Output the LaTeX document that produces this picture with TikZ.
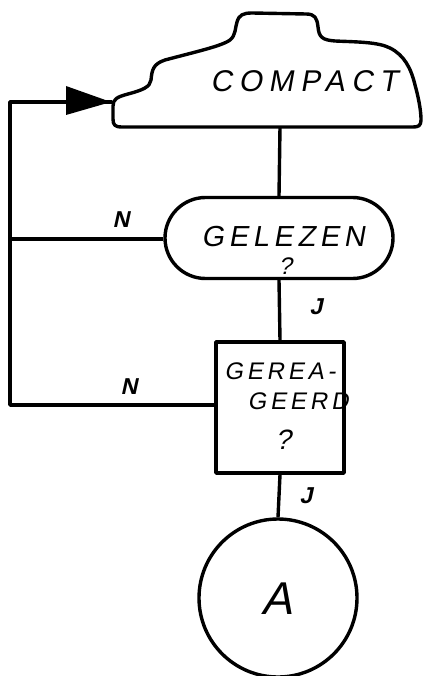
\documentclass[tikz,border=0pt]{standalone}
\usepackage{fontspec}
\usetikzlibrary{arrows.meta,shapes.misc}
\newfontfamily\hand[FakeSlant=0.18,LetterSpace=16]{Liberation Sans}
\newfontfamily\handwide[FakeSlant=0.18,LetterSpace=22]{Liberation Sans}
\newfontfamily\handtight[FakeSlant=0.22]{Liberation Sans}
\begin{document}
\begin{tikzpicture}[x=1pt,y=-1pt,
  line width=3.4pt, line join=round,
  flowline/.style={line width=3.4pt},
  lbl/.style={font=\hand\fontsize{30}{30}\selectfont, inner sep=0pt},
  yn/.style={font=\handtight\bfseries\fontsize{23}{23}\selectfont, inner sep=0pt},
  testbox/.style={draw, rounded rectangle, minimum width=228pt, minimum height=81pt, inner sep=0pt},
  sqbox/.style={draw, rectangle, minimum width=128pt, minimum height=131pt, inner sep=0pt},
  conn/.style={draw, circle, minimum size=158pt, inner sep=0pt}]
\useasboundingbox (0,0) rectangle (425,676);
\fill[white] (0,0) rectangle (425,676);

% cloud-shaped start symbol
\draw (122,127) .. controls (115,127) and (113,125) .. (113,119)
  -- (113,106) .. controls (113,99) and (117,97) .. (128,94)
  .. controls (143,90) and (150,87) .. (151,80)
  .. controls (152,70) and (153,64) .. (165,60)
  .. controls (195,52) and (222,46) .. (230,40)
  .. controls (236,35) and (235,28) .. (237,22)
  .. controls (239,15) and (243,13) .. (252,13)
  -- (306,14) .. controls (315,14) and (317,18) .. (318,27)
  .. controls (319,37) and (322,40) .. (335,41)
  .. controls (358,42) and (378,42) .. (390,48)
  .. controls (404,55) and (411,68) .. (415,85)
  .. controls (420,103) and (421,114) .. (421,120)
  .. controls (421,126) and (418,127) .. (413,127) -- cycle;
\node[lbl, font=\handwide\fontsize{30}{30}\selectfont] (compact) at (304,81) {COMPACT};
\coordinate (cloudbot) at (280,127);
\coordinate (cloudleft) at (112,102);

% decision nodes
\node[testbox] (gel) at (279,238) {};
\node[lbl, font=\hand\fontsize{29}{29}\selectfont] (geltxt) at (283,237) {GELEZEN};
\node[lbl, font=\handtight\fontsize{24}{24}\selectfont] (gelq) at (285,266) {?};

\node[sqbox] (ger) at (280,407.5) {};
\node[lbl, font=\hand\fontsize{24}{24}\selectfont] (ger1) at (280,371) {GEREA-};
\node[lbl, font=\hand\fontsize{24}{24}\selectfont] (ger2) at (298,401) {GEERD};
\node[lbl, font=\handtight\fontsize{28}{28}\selectfont] (gerq) at (283,440) {?};

\node[conn] (ca) at (278,598) {};
\node[font=\handtight\fontsize{46}{46}\selectfont, inner sep=0pt] (atxt) at (277,599) {A};

% vertical flow
\draw[flowline] (cloudbot) -- (gel.north);
\draw[flowline] (gel.south) -- (ger.north);
\draw[flowline] (ger.south) -- (ca.north);

% return loop
\coordinate (lt) at (10,102);
\coordinate (lm) at (10,239);
\coordinate (lb) at (10,405);
\draw[flowline] ([yshift=-1pt]gel.west) -- (lm);
\draw[flowline] ([yshift=2.5pt]ger.west) -- (lb) -- (lt) -- (cloudleft);
\fill (66,86) -- (111,102) -- (66,115) -- cycle;

% answers
\node[yn] (n1) at (121,220) {N};
\node[yn] (n2) at (129,387) {N};
\node[yn] (j1) at (316,307) {J};
\node[yn] (j2) at (306,496) {J};
\end{tikzpicture}
\end{document}
